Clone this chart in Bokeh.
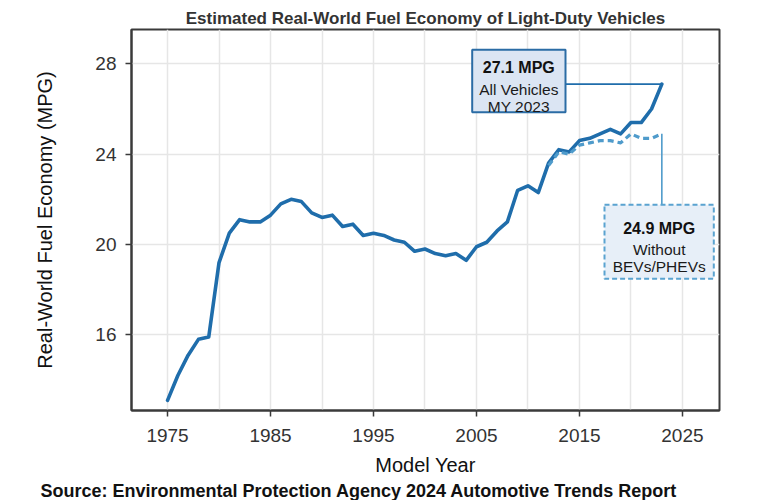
from bokeh.plotting import figure
from bokeh.models import Range1d, FixedTicker, BoxAnnotation, Label, Title
from bokeh.embed import file_html
from bokeh.resources import INLINE

# ---------------- data ----------------
YEARS = [1975, 1976, 1977, 1978, 1979, 1980, 1981, 1982, 1983, 1984,
         1985, 1986, 1987, 1988, 1989, 1990, 1991, 1992, 1993, 1994,
         1995, 1996, 1997, 1998, 1999, 2000, 2001, 2002, 2003, 2004,
         2005, 2006, 2007, 2008, 2009, 2010, 2011, 2012, 2013, 2014,
         2015, 2016, 2017, 2018, 2019, 2020, 2021, 2022, 2023]
MPG_ALL = [13.1, 14.2, 15.1, 15.8, 15.9, 19.2, 20.5, 21.1, 21.0, 21.0,
           21.3, 21.8, 22.0, 21.9, 21.4, 21.2, 21.3, 20.8, 20.9, 20.4,
           20.5, 20.4, 20.2, 20.1, 19.7, 19.8, 19.6, 19.5, 19.6, 19.3,
           19.9, 20.1, 20.6, 21.0, 22.4, 22.6, 22.3, 23.6, 24.2, 24.1,
           24.6, 24.7, 24.9, 25.1, 24.9, 25.4, 25.4, 26.0, 27.1]
YEARS_NO_EV = [2012, 2013, 2014, 2015, 2016, 2017, 2018, 2019, 2020, 2021, 2022, 2023]
MPG_NO_EV = [23.5, 24.1, 24.0, 24.4, 24.5, 24.6, 24.6, 24.5, 24.9, 24.7, 24.7, 24.9]

X_TICKS = [1975, 1985, 1995, 2005, 2015, 2025]
X_GRID = [1975, 1980, 1985, 1990, 1995, 2000, 2005, 2010, 2015, 2020, 2025]
Y_TICKS = [16, 20, 24, 28]

TITLE = "Estimated Real-World Fuel Economy of Light-Duty Vehicles"
SOURCE = "Source: Environmental Protection Agency 2024 Automotive Trends Report"
X_LABEL = "Model Year"
Y_LABEL = "Real-World Fuel Economy (MPG)"
ALL_LABEL = ["27.1 MPG", "All Vehicles", "MY 2023"]
NOEV_LABEL = ["24.9 MPG", "Without", "BEVs/PHEVs"]

# ---------------- layout ----------------
X0, X1 = 1971.5, 2028.6
Y0, Y1 = 12.65, 29.52
W, H = 765, 500
FL, FR, FT, FB = 131, 719, 29, 410  # frame edges in canvas px

FONT = "Liberation Sans"
SOLID = "#1f6dab"
DASHED = "#4f9bcb"
AXIS = "#3a3a3a"


def dx(px):
    return X0 + (px - FL) * (X1 - X0) / (FR - FL)


def dy(py):
    return Y1 - (py - FT) * (Y1 - Y0) / (FB - FT)


p = figure(width=W, height=H, output_backend="svg", toolbar_location=None,
           x_range=Range1d(X0, X1), y_range=Range1d(Y0, Y1),
           min_border_left=FL, min_border_right=W - FR,
           min_border_top=FT, min_border_bottom=H - FB)
p.background_fill_color = "white"
p.border_fill_color = "white"
p.outline_line_color = AXIS
p.outline_line_width = 2
p.outline_line_alpha = 1

# axes
for ax in (p.xaxis[0], p.yaxis[0]):
    ax.axis_line_color = AXIS
    ax.axis_line_width = 2
    ax.major_tick_line_color = AXIS
    ax.major_tick_line_width = 1.5
    ax.major_tick_out = 6
    ax.major_tick_in = 0
    ax.minor_tick_out = 0
    ax.minor_tick_in = 0
    ax.major_label_text_font = FONT
    ax.major_label_text_font_size = "19px"
    ax.major_label_text_color = "#333333"
    ax.axis_label_text_font = FONT
    ax.axis_label_text_font_size = "20px"
    ax.axis_label_text_font_style = "normal"
    ax.axis_label_text_color = "#111111"

p.xaxis.major_label_standoff = 12
p.yaxis.major_label_standoff = 9
p.xaxis.ticker = FixedTicker(ticks=X_TICKS)
p.yaxis.ticker = FixedTicker(ticks=Y_TICKS)
p.xaxis.axis_label = X_LABEL
p.yaxis.axis_label = Y_LABEL
p.xaxis.axis_label_standoff = 9
p.yaxis.axis_label_standoff = 36

p.xgrid.ticker = FixedTicker(ticks=X_GRID)
p.ygrid.ticker = FixedTicker(ticks=Y_TICKS)
for g in (p.xgrid[0], p.ygrid[0]):
    g.grid_line_color = "#e6e6e6"
    g.grid_line_width = 1.5

# series
p.line(YEARS, MPG_ALL, line_color=SOLID, line_width=3.6, line_join="round", line_cap="round")
p.line(YEARS_NO_EV, MPG_NO_EV, line_color=DASHED, line_width=3.2, line_dash="6 4", line_join="round")

# leader lines (anchored on the last data points)
p.line([dx(565), YEARS[-1]], [MPG_ALL[-1], MPG_ALL[-1]], line_color=SOLID, line_width=1.6)
p.line([YEARS_NO_EV[-1], YEARS_NO_EV[-1]], [MPG_NO_EV[-1], dy(204.3)], line_color=DASHED, line_width=1.6)

# annotation boxes
p.add_layout(BoxAnnotation(left=dx(471.7), right=dx(565), top=dy(49.3), bottom=dy(111.7),
                           fill_color="#dbe5f3", fill_alpha=1, line_color="#2b6ca5",
                           line_width=2, line_alpha=1))
p.add_layout(BoxAnnotation(left=dx(604), right=dx(713.3), top=dy(204.3), bottom=dy(278.3),
                           fill_color="#e7eff8", fill_alpha=1, line_color="#5aa3d0",
                           line_width=2, line_alpha=1, line_dash="5 3"))


def add_text(txt, cx, base, size, bold=False, color="#1a1a1a"):
    p.add_layout(Label(x=dx(cx), y=dy(base), text=txt, text_align="center",
                       text_baseline="alphabetic", text_font=FONT,
                       text_font_size=size, text_color=color,
                       text_font_style="bold" if bold else "normal"))


for txt, base, bold in zip(ALL_LABEL, [67.3, 89.0, 106.0], [True, False, False]):
    add_text(txt, 518.3, base, "16px" if bold else "15.5px", bold, "#111111" if bold else "#1a1a1a")
for txt, base, bold in zip(NOEV_LABEL, [228.3, 249.0, 266.0], [True, False, False]):
    add_text(txt, 658.7, base, "16px" if bold else "15.5px", bold, "#111111" if bold else "#1a1a1a")

# title panel at the top of the page
p.add_layout(Title(text=TITLE, align="center", standoff=0, vertical_align="top",
                   text_font=FONT, text_font_size="17px", text_font_style="bold",
                   text_color="#333333"), "above")

# source line: a title panel at the very bottom of the page
p.add_layout(Title(text=SOURCE, align="left", offset=-91, standoff=0,
                   vertical_align="bottom", text_font=FONT, text_font_size="18px",
                   text_font_style="bold", text_color="#111111"), "below")

open("out.html", "w").write(file_html(p, INLINE))
